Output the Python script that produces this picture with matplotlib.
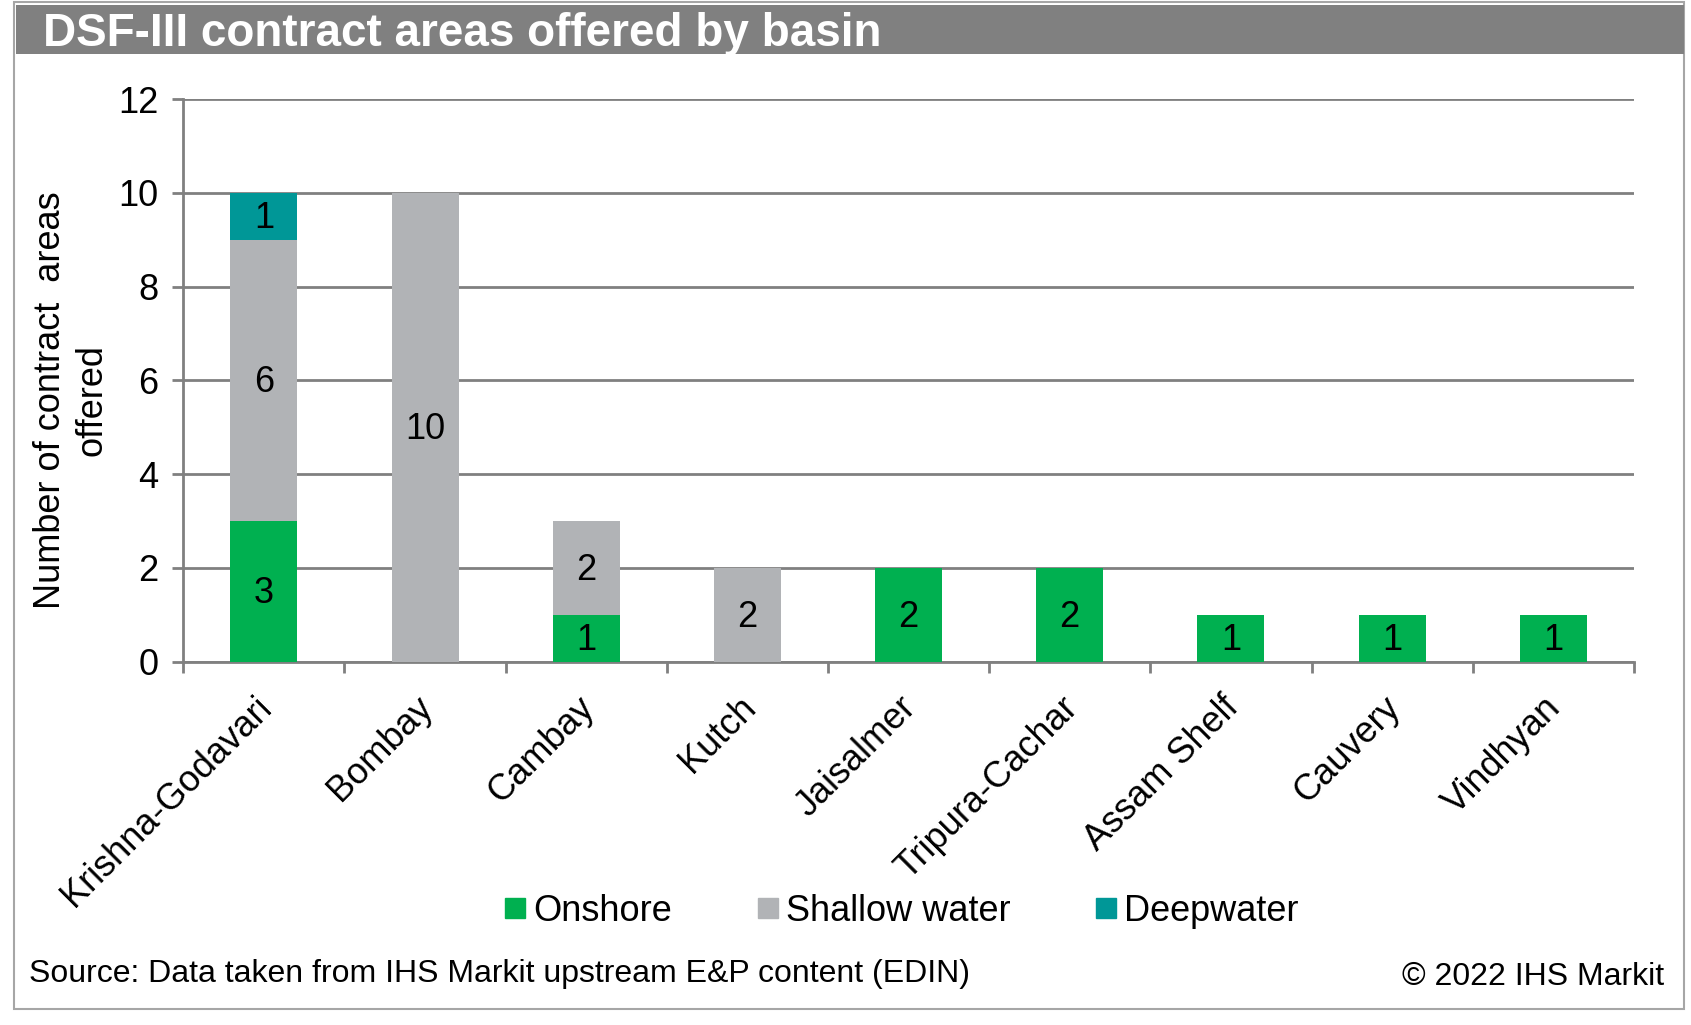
## DSF-III contract areas offered by basin - stacked bar chart

import numpy as np
import matplotlib.pyplot as plt
from matplotlib.patches import Rectangle
from matplotlib.lines import Line2D

basins = ['Krishna-Godavari', 'Bombay', 'Cambay', 'Kutch', 'Jaisalmer',
          'Tripura-Cachar', 'Assam Shelf', 'Cauvery', 'Vindhyan']
onshore = [3, 0, 1, 0, 2, 2, 1, 1, 1]
shallow = [6, 10, 2, 2, 0, 0, 0, 0, 0]
deep = [1, 0, 0, 0, 0, 0, 0, 0, 0]

c_on = '#00B050'
c_sh = '#B1B3B6'
c_dp = '#009797'
grid_c = '#808080'

plt.rcParams['font.family'] = ['Liberation Sans', 'DejaVu Sans']
fs = 26

fig = plt.figure(figsize=(16.91, 10.25), dpi=100)

# outer frame and title bar
fig.patches.append(Rectangle((0.008, 0.016), 0.988, 0.982, transform=fig.transFigure,
                             fill=False, edgecolor='#A6A6A6', linewidth=1.5))
fig.patches.append(Rectangle((0.0095, 0.947), 0.9865, 0.048, transform=fig.transFigure,
                             facecolor='#808080', edgecolor='none'))
fig.text(0.0255, 0.967, 'DSF-III contract areas offered by basin', color='white',
         fontsize=33, fontweight='bold', va='center', ha='left')

ax = fig.add_axes([0.1084, 0.3544, 0.8578, 0.549])
x = np.arange(len(basins))
on = np.array(onshore)
sh = np.array(shallow)
dp = np.array(deep)
w = 0.415
ax.bar(x, on, w, color=c_on, label='Onshore', zorder=3)
ax.bar(x, sh, w, bottom=on, color=c_sh, label='Shallow water', zorder=3)
ax.bar(x, dp, w, bottom=on + sh, color=c_dp, label='Deepwater', zorder=3)

for vals, bottoms in [(on, np.zeros(len(on))), (sh, on), (dp, on + sh)]:
    for i in range(len(vals)):
        if vals[i] > 0:
            ax.text(x[i], bottoms[i] + vals[i] / 2.0 - 0.05, str(vals[i]), ha='center',
                    va='center', fontsize=fs, zorder=4)

ax.set_xlim(-0.5, len(basins) - 0.5)
ax.set_ylim(0, 12)
ax.set_yticks(np.arange(0, 13, 2))
ax.yaxis.grid(True, color=grid_c, linewidth=2, zorder=0)
ax.set_axisbelow(True)
for s in ['top', 'right']:
    ax.spines[s].set_visible(False)
ax.spines['left'].set_color(grid_c)
ax.spines['left'].set_linewidth(2)
ax.spines['bottom'].set_color(grid_c)
ax.spines['bottom'].set_linewidth(2)
ax.tick_params(axis='y', length=8, width=2, color=grid_c, labelsize=fs, pad=10)

# category ticks at boundaries, labels at centers
ax.set_xticks(np.arange(-0.5, len(basins), 1.0))
ax.set_xticklabels([])
ax.tick_params(axis='x', length=8, width=2, color=grid_c)
for i in range(len(basins)):
    ax.text(x[i] - 0.06, -0.6, basins[i], rotation=45, ha='right', va='top',
            rotation_mode='anchor', fontsize=fs, transform=ax.transData)

fig.text(0.042, 0.61, 'Number of contract  areas\noffered', rotation=90, ha='center',
         va='center', fontsize=fs, linespacing=1.25, multialignment='center')

handles = [Line2D([], [], marker='s', linestyle='none', markersize=14, color=c)
           for c in [c_on, c_sh, c_dp]]
fig.legend(handles, ['Onshore', 'Shallow water', 'Deepwater'], loc='center',
           bbox_to_anchor=(0.532, 0.111), ncol=3, frameon=False, fontsize=fs,
           handletextpad=0.1, columnspacing=2.25, handlelength=0.8)

fig.text(0.017, 0.05, 'Source: Data taken from IHS Markit upstream E&P content (EDIN)',
         fontsize=23, ha='left', va='center')
fig.text(0.984, 0.047, '\u00a9 2022 IHS Markit', fontsize=23, ha='right', va='center')

plt.savefig('out.png', dpi=100)
